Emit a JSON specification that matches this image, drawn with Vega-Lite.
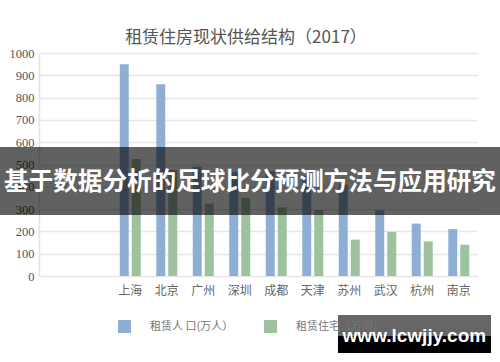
{
  "$schema": "https://vega.github.io/schema/vega-lite/v6.json",
  "width": 438,
  "height": 223,
  "autosize": "none",
  "padding": {"left": 39, "top": 53, "right": 23, "bottom": 86},
  "background": "white",
  "title": {
    "text": "租赁住房现状供给结构（2017）",
    "font": "Noto Sans CJK SC",
    "fontSize": 17,
    "fontWeight": "normal",
    "color": "#555555",
    "anchor": "middle",
    "baseline": "bottom",
    "dx": -12,
    "offset": -17
  },
  "config": {
    "view": {"stroke": null}
  },
  "layer": [
    {
      "data": {
        "values": [
          {"city": "上海", "series": "租赁人 口(万人）", "value": 950},
          {"city": "北京", "series": "租赁人 口(万人）", "value": 860},
          {"city": "广州", "series": "租赁人 口(万人）", "value": 490},
          {"city": "深圳", "series": "租赁人 口(万人）", "value": 465},
          {"city": "成都", "series": "租赁人 口(万人）", "value": 470},
          {"city": "天津", "series": "租赁人 口(万人）", "value": 450},
          {"city": "苏州", "series": "租赁人 口(万人）", "value": 410},
          {"city": "武汉", "series": "租赁人 口(万人）", "value": 295},
          {"city": "杭州", "series": "租赁人 口(万人）", "value": 235},
          {"city": "南京", "series": "租赁人 口(万人）", "value": 210},
          {"city": "上海", "series": "租赁住宅（万间）", "value": 525},
          {"city": "北京", "series": "租赁住宅（万间）", "value": 475},
          {"city": "广州", "series": "租赁住宅（万间）", "value": 325},
          {"city": "深圳", "series": "租赁住宅（万间）", "value": 350},
          {"city": "成都", "series": "租赁住宅（万间）", "value": 308},
          {"city": "天津", "series": "租赁住宅（万间）", "value": 296},
          {"city": "苏州", "series": "租赁住宅（万间）", "value": 163},
          {"city": "武汉", "series": "租赁住宅（万间）", "value": 198},
          {"city": "杭州", "series": "租赁住宅（万间）", "value": 155},
          {"city": "南京", "series": "租赁住宅（万间）", "value": 140}
        ]
      },
      "mark": {"type": "bar"},
      "encoding": {
        "x": {
          "field": "city",
          "type": "nominal",
          "sort": ["上海", "北京", "广州", "深圳", "成都", "天津", "苏州", "武汉", "杭州", "南京"],
          "scale": {"paddingInner": 0, "paddingOuter": 1, "align": 1},
          "axis": {
            "title": null,
            "labelAngle": 0,
            "domain": false,
            "ticks": false,
            "labelPadding": 9,
            "labelFont": "Noto Sans CJK SC",
            "labelFontSize": 12,
            "labelColor": "#666666"
          }
        },
        "xOffset": {
          "field": "series",
          "type": "nominal",
          "sort": ["租赁人 口(万人）", "租赁住宅（万间）"],
          "scale": {"paddingInner": 0.25, "paddingOuter": 0.646}
        },
        "y": {
          "field": "value",
          "type": "quantitative",
          "scale": {"domain": [0, 1000], "nice": false},
          "axis": {
            "title": null,
            "values": [0, 100, 200, 300, 400, 500, 600, 700, 800, 900, 1000],
            "format": "d",
            "labelOverlap": false,
            "ticks": false,
            "domain": true,
            "domainColor": "#e3e3e3",
            "domainWidth": 1.5,
            "gridColor": "#e6e6e6",
            "gridWidth": 1.5,
            "labelPadding": 5,
            "labelFont": "Liberation Serif",
            "labelFontSize": 12.5,
            "labelColor": "#555555"
          }
        },
        "color": {
          "field": "series",
          "type": "nominal",
          "scale": {
            "domain": ["租赁人 口(万人）", "租赁住宅（万间）"],
            "range": ["#8eafd3", "#9ec19e"]
          },
          "legend": {
            "title": null,
            "orient": "none",
            "legendX": 79,
            "legendY": 267,
            "direction": "horizontal",
            "symbolType": "square",
            "symbolSize": 169,
            "symbolStrokeWidth": 0,
            "symbolOpacity": 1,
            "labelFont": "Noto Sans CJK SC",
            "labelFontSize": 11,
            "labelColor": "#777777",
            "labelOffset": 19,
            "columnPadding": 30,
            "padding": 0
          }
        }
      }
    },
    {
      "data": {"values": [{}]},
      "mark": {"type": "rect", "color": "black", "opacity": 0.62},
      "encoding": {
        "x": {"datum": -0.0891, "type": "quantitative", "scale": {"domain": [0, 1]}, "axis": null},
        "x2": {"datum": 1.0526},
        "y": {"datum": 578.5, "type": "quantitative", "scale": {"domain": [0, 1000], "nice": false}, "axis": null},
        "y2": {"datum": 273.5}
      }
    },
    {
      "data": {"values": [{}]},
      "mark": {"type": "text", "color": "white", "font": "Noto Sans CJK SC", "fontWeight": "bold", "fontSize": 24.6, "baseline": "middle", "align": "center"},
      "encoding": {
        "x": {"datum": 0.4817, "type": "quantitative", "scale": {"domain": [0, 1]}, "axis": null},
        "y": {"datum": 417, "type": "quantitative", "scale": {"domain": [0, 1000], "nice": false}, "axis": null},
        "text": {"value": "基于数据分析的足球比分预测方法与应用研究"}
      }
    },
    {
      "data": {"values": [{}]},
      "mark": {"type": "rect", "color": "black", "opacity": 0.6},
      "encoding": {
        "x": {"datum": 0.6826, "type": "quantitative", "scale": {"domain": [0, 1]}, "axis": null},
        "x2": {"datum": 1.032},
        "y": {"datum": -175, "type": "quantitative", "scale": {"domain": [0, 1000], "nice": false}, "axis": null},
        "y2": {"datum": -269}
      }
    },
    {
      "data": {"values": [{}]},
      "mark": {"type": "rect", "color": "black", "opacity": 1},
      "encoding": {
        "x": {"datum": 0.6826, "type": "quantitative", "scale": {"domain": [0, 1]}, "axis": null},
        "x2": {"datum": 1.032},
        "y": {"datum": -269, "type": "quantitative", "scale": {"domain": [0, 1000], "nice": false}, "axis": null},
        "y2": {"datum": -345}
      }
    },
    {
      "data": {"values": [{}]},
      "mark": {"type": "text", "color": "white", "font": "Liberation Sans Narrow, Liberation Sans", "fontWeight": "bold", "fontSize": 19, "baseline": "alphabetic", "align": "center"},
      "encoding": {
        "x": {"datum": 0.857, "type": "quantitative", "scale": {"domain": [0, 1]}, "axis": null},
        "y": {"datum": -294.6, "type": "quantitative", "scale": {"domain": [0, 1000], "nice": false}, "axis": null},
        "text": {"value": "www.lcwjjy.com"}
      }
    }
  ],
  "resolve": {"scale": {"x": "independent", "y": "independent"}}
}
